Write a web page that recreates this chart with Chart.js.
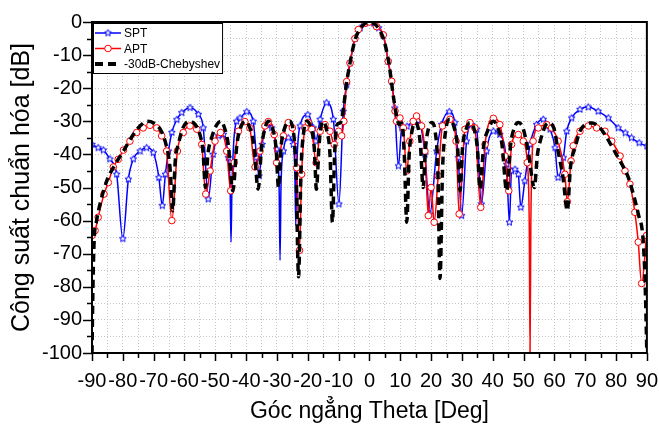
<!DOCTYPE html>
<html>
<head>
<meta charset="utf-8">
<script src="https://cdn.jsdelivr.net/npm/chart.js@4.4.1/dist/chart.umd.min.js"></script>
<style>
  html, body { margin: 0; padding: 0; background: #fff; }
  #wrap { width: 659px; height: 430px; }
</style>
</head>
<body>
<div id="wrap"><canvas id="patternChart" width="659" height="430"></canvas></div>
<script>
// Normalized radiation pattern (theta in deg, power in dB)
const sptTheta = [-90, -88, -86.3, -84.2, -82, -80, -78.2, -76.6, -74.4, -72.3, -70.1, -68.3, -67.2, -66.2, -65.2, -64.1, -62.5, -60.9, -58.2, -55.5, -53.9, -52.3, -50.7, -49, -47.4, -45.8, -45.2, -44.9, -44.6, -43.1, -42, -39.8, -37.7, -36.6, -35.8, -34.8, -33.3, -31.7, -30.1, -29.3, -29, -28.7, -27.9, -26.3, -24.7, -24.2, -23.9, -23.6, -22.5, -20, -18.2, -17.4, -16, -13.9, -11.7, -9.9, -8.5, -7.4, -6.3, -4.7, -3, -1.5, 0, 1.5, 3, 4.5, 6.1, 7.2, 8.2, 9.4, 10.5, 12.2, 14.2, 16.4, 18, 19.6, 21.8, 23.4, 25.9, 27.7, 28.8, 29.9, 31.5, 33.2, 34.8, 36.3, 38, 40.2, 42.3, 44.5, 45.4, 46.1, 47.2, 48.3, 49.1, 50.4, 52.1, 54.2, 56.4, 58.6, 60.2, 61.2, 62.9, 64, 65.6, 68.3, 71, 74.2, 77.5, 80.7, 83, 85, 87.5, 90];
const sptDb = [-37, -38, -38.7, -41.4, -46, -65.5, -47.5, -41.4, -39, -38, -39.5, -47, -55.5, -46, -39, -33.4, -29.5, -27.4, -25.9, -27.9, -32, -53.5, -40, -34.4, -34, -41, -50, -66.5, -50, -30, -29, -27.1, -30, -41, -46.5, -37, -31, -32, -38.4, -50, -72, -50, -39, -35, -37, -45, -61.5, -45, -31.4, -28, -32, -36, -29.4, -24.4, -29.4, -55, -27, -19, -12.4, -5, -1.8, -0.4, 0, -0.4, -1.8, -4, -11.9, -18, -26, -43.5, -32, -31.5, -30, -31, -40, -58, -39, -31, -27.1, -30.4, -41, -58.5, -36, -31, -32.4, -55, -39, -33, -34, -43, -60.5, -45, -44.5, -46, -56, -48, -37, -31, -29.4, -32.4, -38, -47, -41, -33, -29, -26.4, -25.7, -27, -29, -32, -33.5, -35, -36.5, -37.5];

const aptTheta = [-90, -89, -88, -86.1, -84.7, -83.1, -81.5, -79.8, -77.7, -75.5, -73.4, -71.2, -69, -67.4, -65.8, -64.1, -62.3, -60.4, -58.2, -56, -54.4, -53.1, -51.7, -50.1, -48.3, -46.3, -45, -43.9, -42.5, -40.4, -38.8, -37.1, -35.5, -33.9, -32.8, -30.9, -30.1, -27.9, -26.3, -25, -23.6, -22.7, -22, -20.9, -19.8, -18.7, -17.3, -16, -14.4, -12.8, -11.4, -10, -9, -8.3, -7.4, -6.3, -4.7, -3.6, -1.5, 0, 2.3, 4.5, 6.1, 7.2, 8.3, 8.8, 9.9, 11, 12.1, 13.1, 14.2, 15.3, 16.9, 18, 19.1, 20, 21, 22.3, 23.7, 26.1, 28.1, 29.1, 31, 32.6, 34.2, 36.1, 37.5, 40.2, 42.3, 44, 45.2, 46.1, 48.3, 49.9, 51.2, 51.85, 52.1, 52.35, 53.1, 54.8, 57.5, 59.1, 61.2, 63.4, 64.2, 65.4, 66.1, 68.3, 71, 73.7, 76.4, 78.6, 81.3, 82.9, 84.5, 86.1, 87.2, 88.3, 89.9];
const aptDb = [-64.5, -63, -59, -52, -48.5, -43.8, -41.5, -38.7, -36, -33.4, -32, -31.2, -32, -34.4, -39, -60, -39, -33.4, -31.4, -32.4, -37, -52, -45, -36, -33.4, -39, -51, -42.5, -33, -30.1, -32, -43.8, -39, -31.4, -30.1, -34, -42.5, -34.4, -30.4, -32, -44, -69, -46, -32, -30.4, -32.4, -42.5, -33, -31, -33, -37, -33, -34.4, -30, -18, -12.4, -5, -2.3, -0.4, 0, -1.4, -3.9, -11.9, -17.9, -26.9, -30, -29, -32, -45, -36, -30, -28.4, -31.4, -39, -58.5, -50, -60.5, -46.5, -31.4, -29.4, -36, -58, -32.4, -30.4, -32, -56, -37, -29.1, -31, -40.5, -51, -37, -34, -36, -42.5, -62, -100, -62, -36, -32, -31, -32, -36, -46, -54.3, -42, -37.4, -33, -31.4, -32, -33, -36, -40.5, -45, -49, -57.5, -66.5, -79, -64.5];

const chebTheta = [-90, -89.7, -89.3, -88.5, -87.4, -85.2, -82.5, -79.8, -76.6, -74.5, -72.3, -70, -67.5, -66, -64.7, -63.8, -63, -62, -60.5, -58.5, -56.5, -55, -54, -53.2, -52.4, -51.2, -49.5, -48.2, -47, -45.8, -44.3, -43, -41.8, -40.3, -39, -37.5, -36.1, -35, -34, -32.8, -31.5, -30.3, -29.5, -28.7, -27.5, -26, -24.7, -23.8, -23, -22.2, -21.3, -20.3, -19, -17.9, -17.2, -16.4, -15.8, -15, -13.8, -12.8, -12, -11.3, -10.5, -9.5, -8.7, -7.5, -6.3, -4.7, -3, -1.5, 0, 1.5, 3, 4.7, 6.3, 7.7, 8.7, 9.7, 10.5, 11.3, 12.1, 12.9, 13.8, 14.7, 15.8, 16.6, 17.4, 18.2, 19.2, 20.2, 21.3, 22.2, 22.9, 23.7, 24.7, 26.1, 27.5, 28.6, 29.4, 30.2, 31.5, 32.6, 34, 35, 35.9, 37, 38.5, 40.2, 41.7, 43, 44.5, 45.8, 47, 48.3, 49.8, 51.5, 53.5, 54.5, 55.7, 57, 58, 59.8, 61.2, 62.8, 64.2, 65.2, 66.7, 68.3, 69.9, 72.1, 74.3, 76.4, 78.6, 80.7, 82.5, 84, 85.6, 87.2, 88.8, 89.4, 90];
const chebDb = [-100, -80, -66, -60, -55, -48, -43, -39, -34, -31.5, -30, -30.5, -33, -37, -44, -57, -42, -37, -32, -30, -31, -34, -39, -50, -40, -35, -31, -30, -32, -37, -51, -37, -32, -30, -31.5, -37, -50.5, -38, -32.5, -30, -32, -38, -50, -38, -32, -30, -33, -45, -77, -45, -33, -30, -32, -38, -50.5, -38, -32, -30, -33, -40, -60.5, -40, -31, -30.5, -28, -19, -12.4, -5.5, -2, -0.5, 0, -0.5, -2, -5.5, -12.4, -22, -28, -31, -30.5, -40, -60.5, -40, -33, -30.4, -32, -38, -50, -38, -32, -30.4, -33, -45, -77.5, -45, -33, -29.4, -32, -38, -51, -38, -32, -30.4, -32.5, -38, -50.5, -38, -32.5, -30, -32, -37, -51, -37, -32, -30.4, -32, -39, -50, -40, -35, -31.5, -30.5, -32, -39, -47, -57, -44, -38, -33, -31, -30.5, -31.5, -34, -37.5, -41, -44, -47, -52, -58, -66, -78, -100];

const xMin = -90, xMax = 90, yMin = -100, yMax = 0;

const toPoints = (xs, ys) => xs.map((x, i) => ({ x: x, y: ys[i] }));

// open five-point star marker like the Origin plot
function makeStar(color, r) {
    const c = document.createElement('canvas');
    const s = Math.ceil(r * 2 + 3);
    c.width = s; c.height = s;
    const g = c.getContext('2d');
    g.strokeStyle = color;
    g.fillStyle = '#fff';
    g.lineWidth = 1;
    g.beginPath();
    for (let k = 0; k < 10; k++) {
        const a = -Math.PI / 2 + k * Math.PI / 5;
        const rr = k % 2 ? r * 0.45 : r;
        g.lineTo(s / 2 + rr * Math.cos(a), s / 2 + rr * Math.sin(a));
    }
    g.closePath();
    g.fill();
    g.stroke();
    return c;
}
const starMarker = makeStar('#0000ff', 3.6);

// no marker on the closely spaced points that only shape the sharp nulls
const markerRadius = r => ctx => {
    const d = ctx.dataset.data, i = ctx.dataIndex;
    const gl = i > 0 ? d[i].x - d[i - 1].x : 9;
    const gr = i < d.length - 1 ? d[i + 1].x - d[i].x : 9;
    return Math.min(gl, gr) < 0.45 ? 0 : r;
};

// axis frame with outward ticks (major every 10, minor every 5)
const framePlugin = {
    id: 'frame',
    afterDatasetsDraw(chart) {
        const { ctx, chartArea: a, scales } = chart;
        ctx.save();
        ctx.strokeStyle = '#000';
        ctx.lineWidth = 1.5;
        for (let v = xMin; v <= xMax; v += 5) {
            const px = Math.round(scales.x.getPixelForValue(v)) + 0.5;
            const len = v % 10 === 0 ? 8 : 5;
            ctx.beginPath(); ctx.moveTo(px, a.bottom); ctx.lineTo(px, a.bottom + len); ctx.stroke();
        }
        for (let v = yMin; v <= yMax; v += 5) {
            const py = Math.round(scales.y.getPixelForValue(v)) + 0.5;
            const len = v % 10 === 0 ? 9 : 5;
            ctx.beginPath(); ctx.moveTo(a.left, py); ctx.lineTo(a.left - len, py); ctx.stroke();
        }
        ctx.lineWidth = 2;
        ctx.strokeRect(a.left, a.top, a.right - a.left, a.bottom - a.top);
        ctx.restore();
    }
};

// boxed legend in the upper-left corner of the plot
const legendPlugin = {
    id: 'boxLegend',
    afterDraw(chart) {
        const { ctx, chartArea: a } = chart;
        const sets = chart.data.datasets;
        ctx.save();
        ctx.font = '12px "Liberation Sans", Arial, sans-serif';
        const textW = Math.max(...sets.map(ds => ctx.measureText(ds.label).width));
        const x0 = a.left + 1, y0 = a.top + 1;
        const w = 31 + textW + 2, h = 50;
        ctx.fillStyle = '#fff';
        ctx.fillRect(x0, y0, w, h);
        ctx.strokeStyle = '#000';
        ctx.lineWidth = 1;
        ctx.strokeRect(x0 + 0.5, y0 + 0.5, w, h);
        sets.forEach((ds, i) => {
            const y = y0 + 10 + i * 15.5;
            ctx.save();
            ctx.strokeStyle = ds.borderColor;
            ctx.lineWidth = ds.label.includes('Cheb') ? 4 : 1.5;
            ctx.setLineDash(ds.borderDash || []);
            ctx.beginPath(); ctx.moveTo(x0 + 2, y); ctx.lineTo(x0 + 28, y); ctx.stroke();
            ctx.restore();
            if (ds.label === 'SPT') {
                ctx.drawImage(starMarker, x0 + 15 - starMarker.width / 2, y - starMarker.height / 2);
            } else if (ds.label === 'APT') {
                ctx.beginPath(); ctx.arc(x0 + 15, y, 3.3, 0, Math.PI * 2);
                ctx.fillStyle = '#fff'; ctx.fill();
                ctx.strokeStyle = '#ff0000'; ctx.lineWidth = 1; ctx.stroke();
            }
            ctx.fillStyle = '#000';
            ctx.textBaseline = 'middle';
            ctx.fillText(ds.label, x0 + 31, y + 1);
        });
        ctx.restore();
    }
};

const tickFont = { family: '"Liberation Sans", Arial, sans-serif', size: 20 };

new Chart(document.getElementById('patternChart'), {
    type: 'line',
    data: {
        datasets: [
            {
                label: 'SPT',
                data: toPoints(sptTheta, sptDb),
                borderColor: '#0000ff',
                borderWidth: 1.5,
                pointStyle: starMarker,
                pointRadius: markerRadius(4),
                cubicInterpolationMode: 'monotone',
                order: 3
            },
            {
                label: 'APT',
                data: toPoints(aptTheta, aptDb),
                borderColor: '#ff0000',
                borderWidth: 1.5,
                pointStyle: 'circle',
                pointRadius: markerRadius(3.3),
                pointBorderWidth: 1,
                pointBorderColor: '#ff0000',
                pointBackgroundColor: '#fff',
                cubicInterpolationMode: 'monotone',
                order: 2
            },
            {
                label: '-30dB-Chebyshev',
                data: toPoints(chebTheta, chebDb),
                borderColor: '#000',
                borderWidth: 3.5,
                borderDash: [8, 5],
                pointRadius: 0,
                cubicInterpolationMode: 'monotone',
                order: 1
            }
        ]
    },
    options: {
        responsive: false,
        animation: false,
        devicePixelRatio: 1,
        layout: { padding: { left: 0, right: 0, top: 20, bottom: 0 } },
        plugins: { legend: { display: false }, tooltip: { enabled: false } },
        scales: {
            x: {
                type: 'linear',
                min: xMin,
                max: xMax,
                afterFit: s => { s.height = 77; },
                ticks: {
                    stepSize: 5,
                    autoSkip: false,
                    maxRotation: 0,
                    minRotation: 0,
                    padding: 1,
                    color: '#000',
                    // tall line box pushes the labels down without widening the side padding
                    font: { family: '"Liberation Sans", Arial, sans-serif', size: 20, lineHeight: 2.7 },
                    callback: v => (v % 10 === 0 ? v : '')
                },
                grid: { color: '#c4c4c4', lineWidth: 1, drawTicks: false },
                border: { display: false, dash: [1, 2] },
                title: {
                    display: true,
                    text: 'Góc ngẳng Theta [Deg]',
                    color: '#000',
                    font: { family: '"Liberation Sans", Arial, sans-serif', size: 23 },
                    padding: { top: 0, bottom: 5 }
                }
            },
            y: {
                type: 'linear',
                min: yMin,
                max: yMax,
                afterFit: s => { s.width = 92; },
                ticks: {
                    stepSize: 5,
                    autoSkip: false,
                    padding: 10,
                    color: '#000',
                    font: tickFont,
                    callback: v => (v % 10 === 0 ? v : '')
                },
                grid: { color: '#c4c4c4', lineWidth: 1, drawTicks: false },
                border: { display: false, dash: [1, 2] },
                title: {
                    display: true,
                    text: 'Công suất chuẩn hóa [dB]',
                    color: '#000',
                    font: { family: '"Liberation Sans", Arial, sans-serif', size: 25 },
                    padding: { top: 7, bottom: 0 }
                }
            }
        }
    },
    plugins: [framePlugin, legendPlugin]
});
</script>
